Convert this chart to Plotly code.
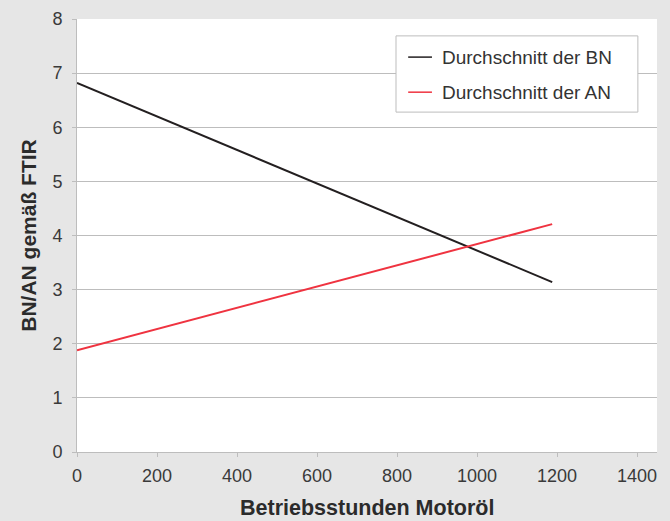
import plotly.graph_objects as go

hours = [0, 1188]
bn_avg = [6.82, 3.14]
an_avg = [1.88, 4.21]
series_names = ["Durchschnitt der BN", "Durchschnitt der AN"]
series_colors = ["#231f20", "#ef3340"]
x_ticks = [0, 200, 400, 600, 800, 1000, 1200, 1400]
y_ticks = [0, 1, 2, 3, 4, 5, 6, 7, 8]

FONT = "Liberation Sans, Arial, Helvetica, sans-serif"
GRID = "#bdbdbd"
TXT = "#3a3a3a"

fig = go.Figure()
for vals, name, col in zip([bn_avg, an_avg], series_names, series_colors):
    fig.add_trace(go.Scatter(x=hours, y=vals, mode="lines", name=name,
                             line=dict(color=col, width=2), showlegend=False))

fig.update_layout(
    width=670, height=521,
    margin=dict(l=77, r=13, t=19, b=69, autoexpand=False),
    paper_bgcolor="#e6e6e6", plot_bgcolor="#ffffff",
    font=dict(family=FONT, size=18, color=TXT),
    xaxis=dict(range=[0, 1450], tickvals=x_ticks, showgrid=False, zeroline=False,
               showline=True, linecolor=GRID, linewidth=1, automargin=False,
               ticks="outside", ticklen=4, tickcolor=GRID, ticklabelstandoff=3),
    yaxis=dict(range=[0, 8], tickvals=y_ticks, showgrid=True, gridcolor=GRID, gridwidth=1,
               zeroline=False, showline=True, linecolor=GRID, linewidth=1, automargin=False,
               ticks="outside", ticklen=4, tickcolor=GRID, ticklabelstandoff=6),
)

fig.add_annotation(xref="paper", yref="paper", x=0.5, y=-0.129, yanchor="middle",
                   text="<b>Betriebsstunden Motoröl</b>", showarrow=False,
                   font=dict(size=21.5, color="#2b2b2b"))
fig.add_annotation(xref="paper", yref="paper", x=-0.084, y=0.5, xanchor="center",
                   text="<b>BN/AN gemäß FTIR</b>", showarrow=False, textangle=-90,
                   font=dict(size=21, color="#2b2b2b"))

# manual legend box
fig.add_shape(type="rect", xref="paper", yref="paper", x0=0.55, x1=0.967, y0=0.785, y1=0.961,
              line=dict(color=GRID, width=1), fillcolor="#ffffff", layer="above")
rows = [0.912, 0.831]
for name, col, yy in zip(series_names, series_colors, rows):
    fig.add_shape(type="line", xref="paper", yref="paper", x0=0.571, x1=0.612, y0=yy, y1=yy,
                  line=dict(color=col, width=1.5), layer="above")
    fig.add_annotation(xref="paper", yref="paper", x=0.626, y=yy, text=name, showarrow=False,
                       xanchor="left", yanchor="middle", font=dict(size=19, color="#333333"))

fig.write_html("out.html", config={"displayModeBar": False},
               post_script="document.body.style.margin='0';")
